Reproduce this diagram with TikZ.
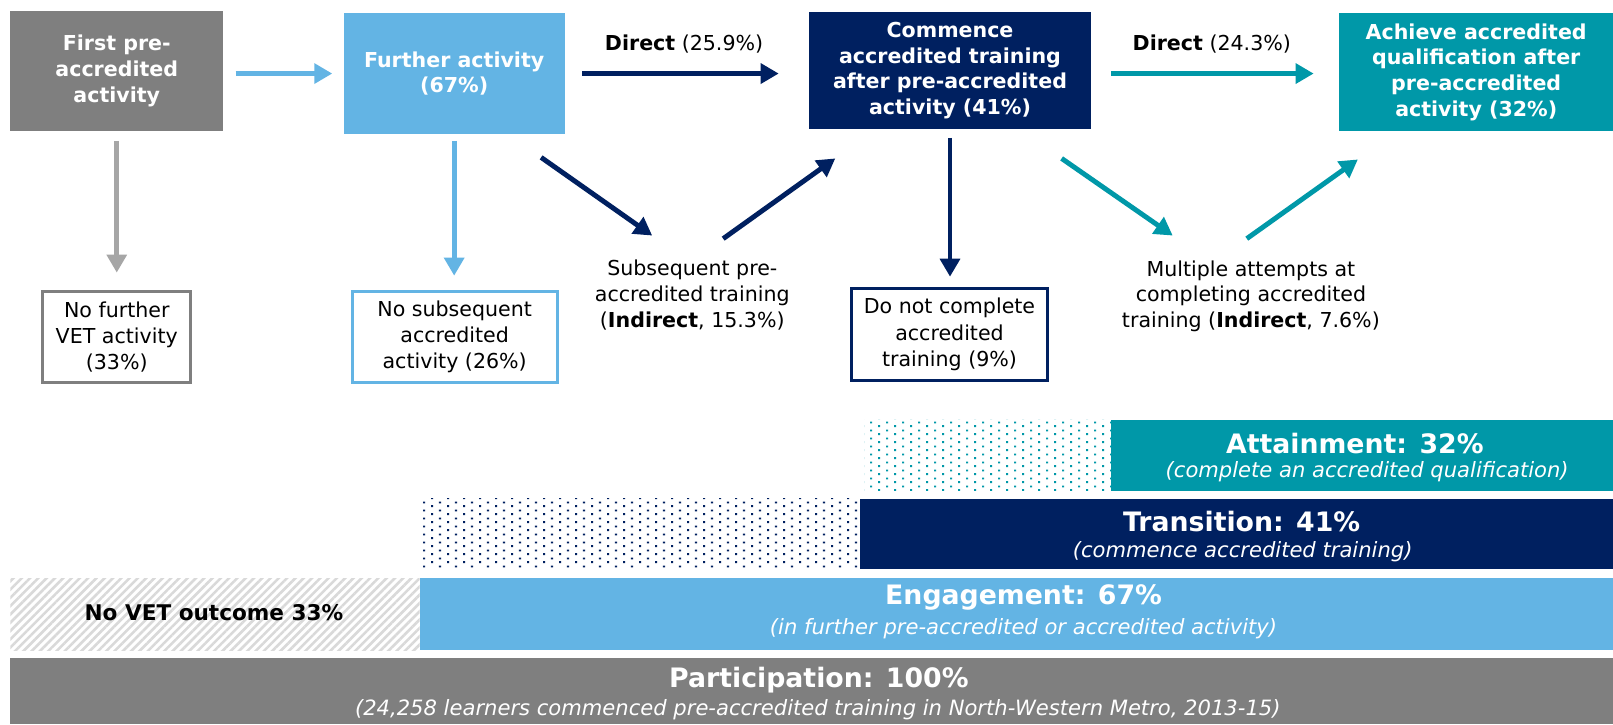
\documentclass[tikz,border=0pt]{standalone}
\usepackage{fontspec}
\setmainfont{DejaVu Sans}
\usetikzlibrary{arrows.meta,patterns,patterns.meta}
\definecolor{boxgray}{HTML}{7F7F7F}
\definecolor{lblue}{HTML}{63B4E4}
\definecolor{navy}{HTML}{002060}
\definecolor{mteal}{HTML}{0098A8}
\definecolor{agray}{HTML}{A6A6A6}
\definecolor{hgray}{HTML}{D9D9D9}
\pgfdeclarepatternformonly{stagdots}{\pgfqpoint{0pt}{0pt}}{\pgfqpoint{15.5pt}{7.8pt}}{\pgfqpoint{15.5pt}{7.8pt}}{%
  \pgfpathrectangle{\pgfqpoint{1pt}{1pt}}{\pgfqpoint{2pt}{2pt}}%
  \pgfpathrectangle{\pgfqpoint{8.75pt}{4.9pt}}{\pgfqpoint{2pt}{2pt}}%
  \pgfusepath{fill}}
\begin{document}
\begin{tikzpicture}[x=1pt,y=-1pt,
  topbox/.style={fill=#1, text=white, font=\fontsize{20}{25}\selectfont\bfseries, align=center, inner sep=0pt, outer sep=0pt},
  outbox/.style={draw=#1, fill=white, line width=3pt, font=\fontsize{20}{25.5}\selectfont, align=center, inner sep=0pt},
  plaintext/.style={font=\fontsize{20}{25}\selectfont, align=center, inner sep=0pt},
  arr/.style={line width=4.8pt, -{Triangle[length=17.5pt,width=19pt]}},
  band/.style={fill=#1, inner sep=0pt, outer sep=0pt},
  bandhead/.style={text=white, font=\fontsize{26}{30}\selectfont\bfseries, inner sep=0pt},
  bandsub/.style={text=white, font=\fontsize{20.5}{24}\selectfont\itshape, inner sep=0pt}]
\useasboundingbox (0,0) rectangle (1568,704);
\fill[white] (0,0) rectangle (1568,704);

% top boxes
\node[topbox=boxgray, minimum width=207pt, minimum height=116pt] (first) at (113.5,69) {First pre-\\accredited\\activity};
\node[topbox=lblue, minimum width=215pt, minimum height=117pt] (further) at (441.5,71.5) {Further activity\\(67\%)};
\node[topbox=navy, minimum width=275pt, minimum height=113pt] (commence) at (923.5,68.5) {Commence\\accredited training\\after pre-accredited\\activity (41\%)};
\node[topbox=mteal, minimum width=266pt, minimum height=114pt] (achieve) at (1435,70) {Achieve accredited\\qualification after\\pre-accredited\\activity (32\%)};

% outcome boxes
\node[outbox=boxgray, minimum width=144pt, minimum height=88pt] (nofurther) at (113.5,327.5) {No further\\VET activity\\(33\%)};
\node[outbox=lblue, minimum width=199pt, minimum height=88pt] (nosub) at (442,327.5) {No subsequent\\accredited\\activity (26\%)};
\node[outbox=navy, minimum width=191pt, minimum height=89pt] (donot) at (923,325) {Do not complete\\accredited\\training (9\%)};
\node[plaintext] (subseq) at (673,287) {Subsequent pre-\\accredited training\\(\textbf{Indirect}, 15.3\%)};
\node[plaintext] (multi) at (1216,288) {Multiple attempts at\\completing accredited\\training (\textbf{Indirect}, 7.6\%)};

% labels
\node[plaintext] (dir1) at (665,43) {\textbf{Direct} (25.9\%)};
\node[plaintext] (dir2) at (1178,43) {\textbf{Direct} (24.3\%)};

% horizontal arrows
\draw[arr, lblue, shorten <=12pt, shorten >=11pt] (first.east |- further.west) -- (further.west);
\draw[arr, navy, shorten <=17pt, shorten >=29pt] (further.east) -- (further.east -| commence.west);
\draw[arr, mteal, shorten <=19pt, shorten >=25pt] (commence.east |- further.east) -- (further.east -| achieve.west);

% vertical arrows
\draw[arr, agray, shorten <=10pt, shorten >=17pt] (first.south) -- (first.south |- nofurther.north);
\draw[arr, lblue, shorten <=7pt, shorten >=14pt] (further.south) -- (further.south |- nosub.north);
\draw[arr, navy, shorten <=9pt, shorten >=10pt] (commence.south) -- (commence.south |- donot.north);

% diagonal arrows
\coordinate (d1a) at (526,153); \coordinate (d1b) at (634,229);
\coordinate (d2a) at (703,232); \coordinate (d2b) at (812,154);
\coordinate (d3a) at (1032,154); \coordinate (d3b) at (1140,229);
\coordinate (d4a) at (1212,232); \coordinate (d4b) at (1320,155);
\draw[arr, navy] (d1a) -- (d1b);
\draw[arr, navy] (d2a) -- (d2b);
\draw[arr, mteal] (d3a) -- (d3b);
\draw[arr, mteal] (d4a) -- (d4b);

% bands
\path[pattern=stagdots, pattern color=mteal] (840,408) rectangle (1080,477);
\node[band=mteal, minimum width=488pt, minimum height=69pt] (attain) at (1324,442.5) {};
\node[bandhead] (attainh) at (1317,431) {Attainment: 32\%};
\node[bandsub] (attains) at (1329,459) {(complete an accredited qualification)};

\path[pattern=stagdots, pattern color=navy] (411,485) rectangle (836,553);
\node[band=navy, minimum width=732pt, minimum height=68pt] (trans) at (1202,519) {};
\node[bandhead] (transh) at (1207,507) {Transition: 41\%};
\node[bandsub] (transs) at (1208,536) {(commence accredited training)};

\path[pattern={Lines[angle=45,distance=5.7pt,line width=2.5pt]}, pattern color=hgray] (10,562) rectangle (408,632);
\node[font=\fontsize{21}{25}\selectfont\bfseries, inner sep=0pt] (novet) at (208,596) {No VET outcome 33\%};
\node[band=lblue, minimum width=1160pt, minimum height=70pt] (engage) at (988,597) {};
\node[bandhead] (engageh) at (995,581) {Engagement: 67\%};
\node[bandsub] (engages) at (995,611) {(in further pre-accredited or accredited activity)};

\node[band=boxgray, minimum width=1558pt, minimum height=64pt] (partic) at (789,672) {};
\node[bandhead] (partich) at (796,661) {Participation: 100\%};
\node[bandsub] (partics) at (795,690) {(24,258 learners commenced pre-accredited training in North-Western Metro, 2013-15)};
\end{tikzpicture}
\end{document}
